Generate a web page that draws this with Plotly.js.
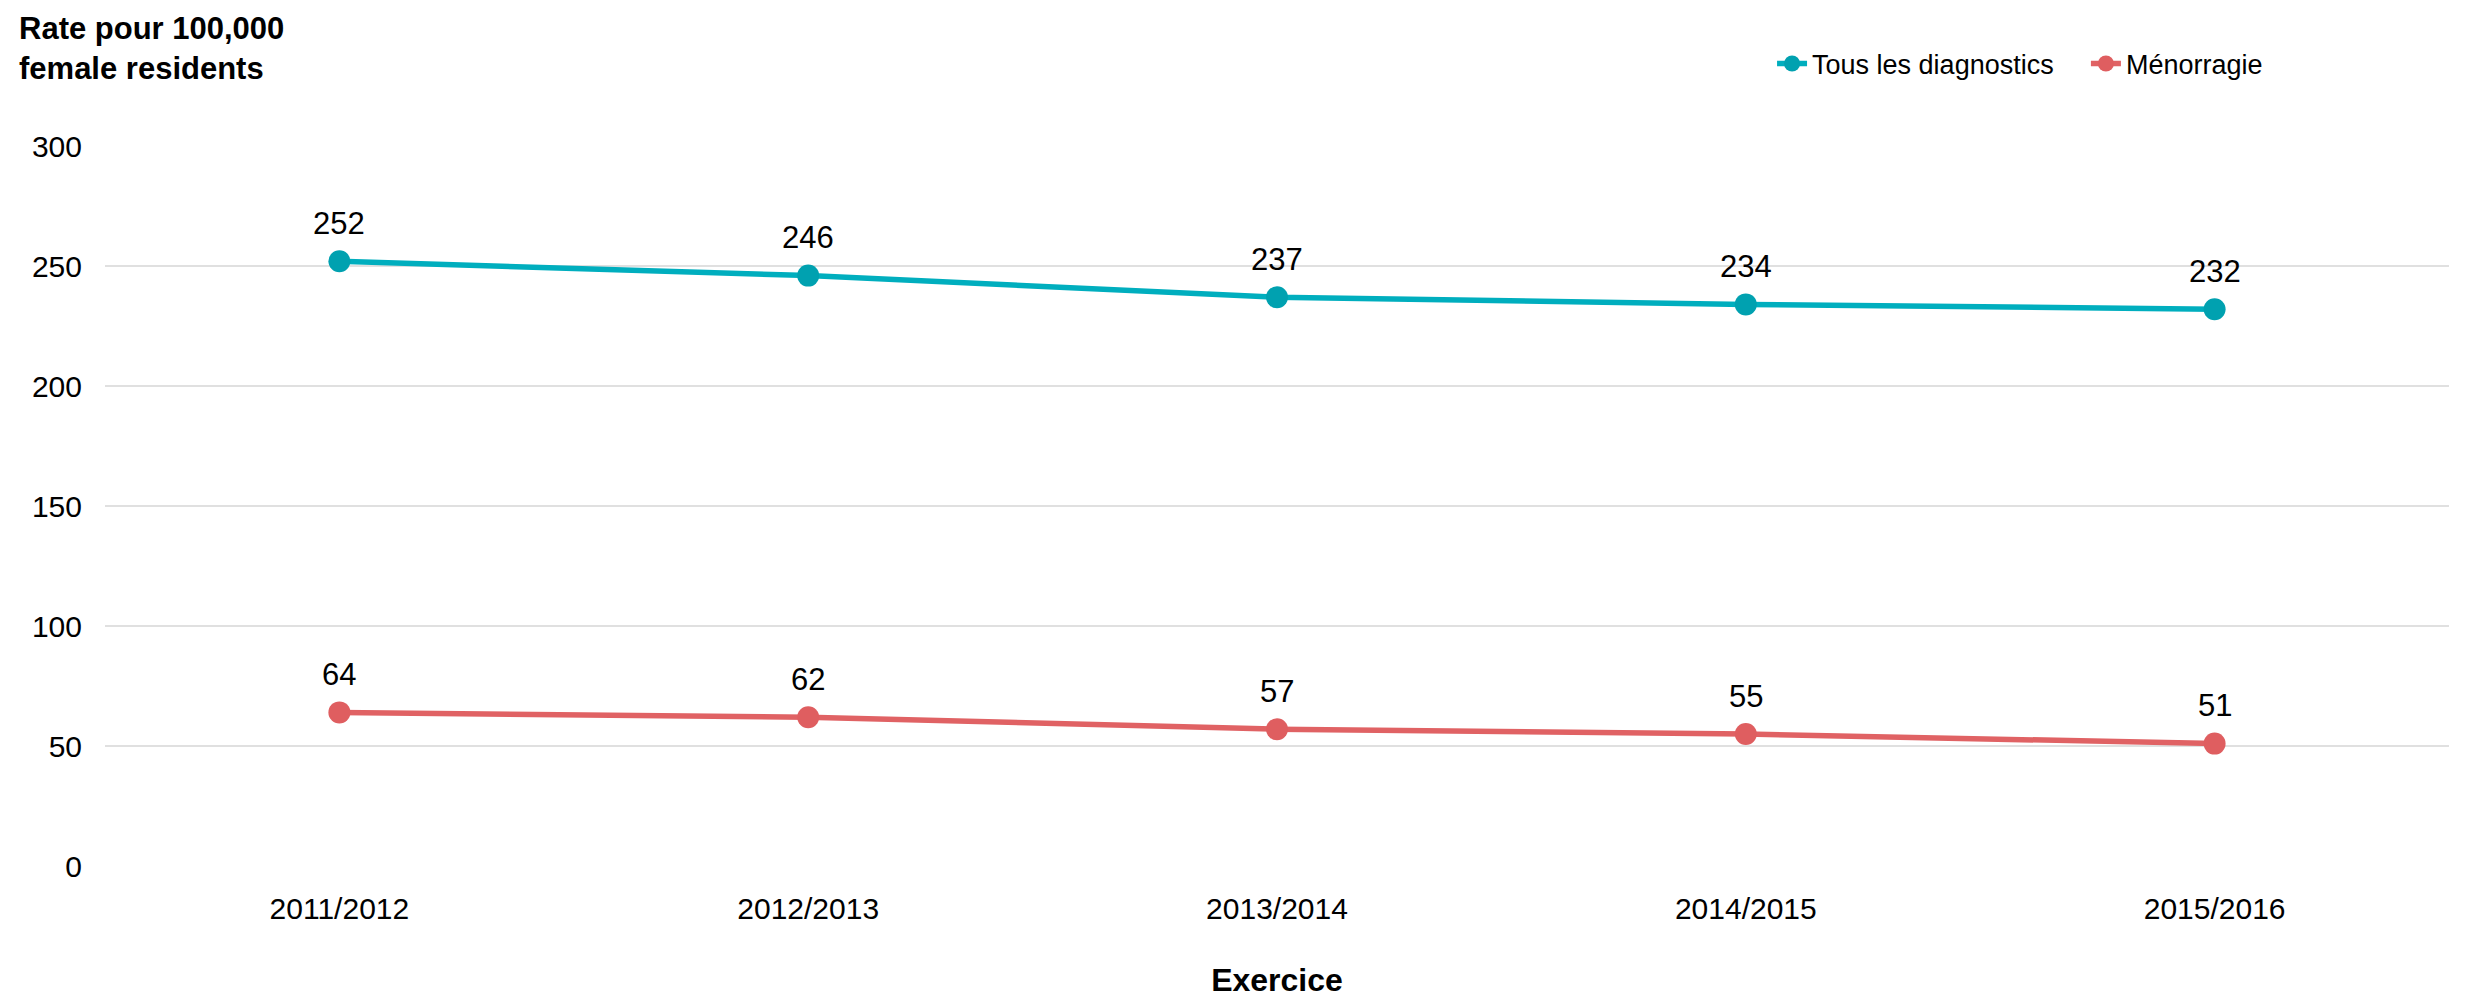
<!DOCTYPE html>
<html>
<head>
<meta charset="utf-8">
<script src="https://cdn.plot.ly/plotly-3.0.1.min.js"></script>
<style>html,body{margin:0;padding:0;background:#fff;}#chart{width:2475px;height:998px;}</style>
</head>
<body>
<div id="chart"></div>
<script>
const categories = ["2011/2012", "2012/2013", "2013/2014", "2014/2015", "2015/2016"];
const tousValues = [252, 246, 237, 234, 232];
const menoValues = [64, 62, 57, 55, 51];
const seriesNames = ["Tous les diagnostics", "Ménorragie"];
const yTickVals = [0, 50, 100, 150, 200, 250, 300];

const FONT = "Liberation Sans, Arial, sans-serif";

function trace(name, vals, lineColor, markerColor, legendId) {
  return {
    type: "scatter",
    mode: "lines+markers",
    name: name,
    legend: legendId,
    x: categories,
    y: vals,
    line: {color: lineColor, width: 5.5},
    marker: {color: markerColor, size: 22},
    cliponaxis: false,
    hoverinfo: "x+y"
  };
}

const data = [
  trace(seriesNames[0], tousValues, "#00AEBE", "#00A1B0", "legend"),
  trace(seriesNames[1], menoValues, "#E06264", "#DF5E60", "legend2")
];

function labels(vals) {
  return vals.map((v, i) => ({
    x: categories[i], y: v, xref: "x", yref: "y",
    text: String(v), showarrow: false,
    yanchor: "middle", yshift: 38,
    font: {family: FONT, size: 31, color: "#000"}
  }));
}

const legendCommon = {
  orientation: "h",
  xanchor: "left",
  y: 1.114, yanchor: "middle",
  font: {family: FONT, size: 27, color: "#000"},
  itemwidth: 30,
  bgcolor: "rgba(0,0,0,0)"
};

const layout = {
  width: 2475,
  height: 998,
  margin: {l: 105, r: 26, t: 146, b: 132},
  paper_bgcolor: "#fff",
  plot_bgcolor: "#fff",
  font: {family: FONT, size: 30, color: "#000"},
  showlegend: true,
  legend: Object.assign({}, legendCommon, {x: 0.7112}),
  legend2: Object.assign({}, legendCommon, {x: 0.8451}),
  xaxis: {
    type: "category",
    range: [-0.5, 4.5],
    showgrid: false,
    zeroline: false,
    showline: false,
    ticks: "",
    tickfont: {family: FONT, size: 30, color: "#000"},
    ticklabelstandoff: 22,
    title: {text: "<b>Exercice</b>", font: {family: FONT, size: 32, color: "#000"}, standoff: 55}
  },
  yaxis: {
    range: [0, 300],
    tickvals: yTickVals,
    showgrid: true,
    gridcolor: "#E0E0E0",
    gridwidth: 2,
    zeroline: false,
    showline: false,
    ticks: "",
    tickfont: {family: FONT, size: 30, color: "#000"},
    ticklabelstandoff: 22
  },
  annotations: [
    {
      text: "<b>Rate pour 100,000<br>female residents</b>",
      xref: "paper", yref: "paper",
      x: 0, xanchor: "left", xshift: -88,
      y: 1, yanchor: "bottom", yshift: 58,
      align: "left",
      showarrow: false,
      font: {family: FONT, size: 31, color: "#000"}
    }
  ].concat(labels(tousValues), labels(menoValues))
};

Plotly.newPlot("chart", data, layout, {displayModeBar: false, staticPlot: true});
</script>
</body>
</html>
